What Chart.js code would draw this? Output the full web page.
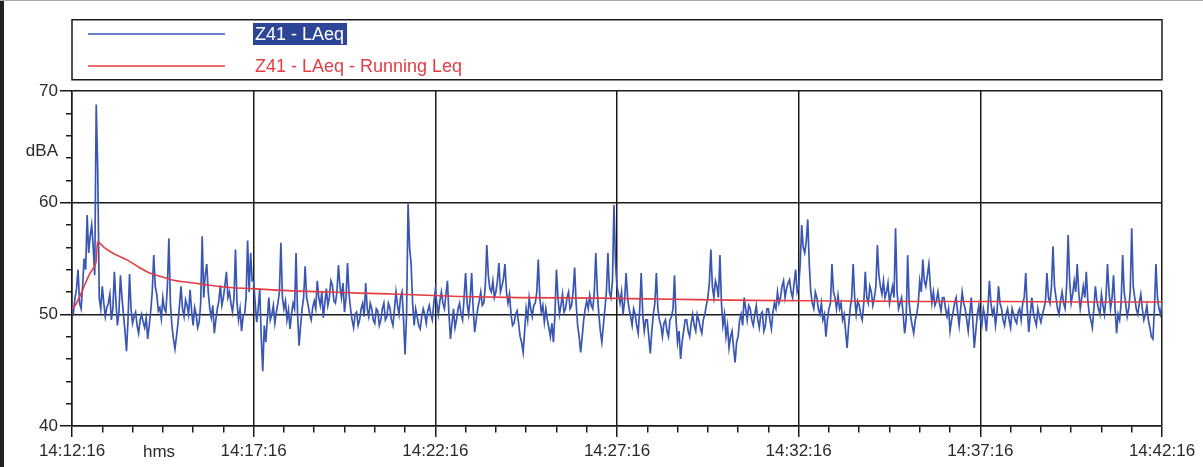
<!DOCTYPE html>
<html>
<head>
<meta charset="utf-8">
<title>Z41 - LAeq</title>
<script src="https://cdn.jsdelivr.net/npm/chart.js@4.4.1/dist/chart.umd.min.js"></script>
<style>
    html, body { margin: 0; padding: 0; background: #fff; }
    #wrap { position: relative; width: 1203px; height: 467px; }
</style>
</head>
<body>
<div id="wrap"><canvas id="noise-chart"></canvas></div>
<script>
// ===== DATA =====
// LAeq samples, one every 2.5 s from 14:12:16
const laeqStep = 2.5;
const laeq = [
    50.8, 50.2, 51.5, 52.3, 54.0, 51.0, 50.5, 52.5, 55.0, 54.0, 58.9, 55.5, 57.0, 58.0, 56.0, 53.5, 68.8, 63.0, 51.5, 50.5,
    52.5, 51.0, 49.8, 50.6, 51.0, 51.8, 49.5, 50.5, 53.8, 51.2, 49.0, 50.2, 53.5, 51.5, 50.0, 48.5, 46.7, 49.5, 53.6, 50.5,
    49.2, 49.8, 50.2, 49.0, 48.3, 49.5, 50.0, 49.3, 48.8, 49.7, 47.8, 49.0, 50.3, 52.0, 55.3, 52.5, 51.8, 50.3, 50.6, 49.6,
    51.5, 50.5, 50.2, 52.5, 56.8, 51.0, 49.0, 47.8, 46.9, 48.0, 49.2, 50.8, 52.5, 50.5, 49.8, 51.3, 50.8, 50.0, 52.2, 50.3,
    49.0, 50.6, 50.0, 48.8, 49.3, 51.0, 57.0, 51.5, 53.5, 54.5, 52.0, 50.5, 49.7, 50.8, 48.3, 49.5, 50.5, 51.2, 52.6, 50.8,
    51.5, 52.6, 53.8, 51.5, 52.0, 51.0, 50.2, 51.5, 55.8, 51.0, 49.5, 50.5, 48.5, 49.8, 50.0, 51.5, 56.6, 52.0, 55.5, 53.0,
    53.0, 51.0, 49.3, 50.5, 52.3, 48.0, 44.9, 49.0, 47.5, 49.5, 51.5, 49.5, 50.0, 50.8, 49.2, 50.2, 51.0, 52.0, 56.4, 51.5,
    50.5, 51.2, 49.5, 50.4, 48.7, 50.0, 51.0, 50.5, 55.5, 50.0, 47.2, 49.0, 50.5, 51.5, 54.3, 51.5, 50.8, 50.0, 49.5, 50.6,
    51.2, 50.5, 53.0, 51.5, 50.8, 52.0, 49.7, 51.0, 52.3, 50.8, 51.5, 53.0, 52.6, 51.2, 51.0, 52.0, 54.4, 52.5, 51.5, 52.8,
    50.2, 51.5, 54.6, 51.8, 50.5, 49.5, 48.8, 50.0, 50.2, 49.0, 49.5, 50.5, 51.0, 49.8, 52.8, 50.5, 49.8, 51.0, 50.5, 49.5,
    49.2, 50.5, 50.3, 49.0, 49.5, 50.5, 51.0, 49.5, 49.8, 51.0, 50.6, 49.5, 49.0, 50.5, 52.0, 50.8, 50.0, 51.5, 52.0, 49.5,
    46.4, 50.0, 59.9, 56.0, 54.5, 51.0, 49.0, 50.5, 49.8, 49.0, 48.7, 49.8, 50.5, 50.0, 49.2, 50.3, 50.8, 50.0, 49.5, 51.0,
    52.2, 51.0, 50.0, 51.2, 52.0, 51.0, 50.5, 51.8, 53.0, 50.0, 47.8, 49.2, 50.5, 48.8, 49.5, 50.5, 51.0, 50.0, 49.5, 51.5,
    53.7, 51.0, 50.0, 51.5, 53.7, 50.5, 48.4, 49.5, 50.5, 51.2, 52.0, 50.8, 51.0, 52.5, 56.2, 53.5, 52.3, 52.0, 53.0, 51.5,
    52.0, 53.0, 54.6, 52.0, 52.5, 53.2, 54.5, 52.0, 51.0, 51.8, 50.0, 49.0, 49.2, 50.0, 50.3, 49.2, 48.0, 47.5, 46.6, 48.5,
    50.5, 49.5, 51.5, 50.5, 49.8, 50.8, 51.0, 52.0, 54.9, 51.5, 50.2, 50.8, 49.3, 50.5, 49.5, 48.8, 48.0, 49.2, 47.5, 50.0,
    54.0, 51.5, 50.0, 50.8, 51.8, 50.2, 50.5, 51.5, 52.0, 50.5, 50.8, 52.0, 54.2, 51.0, 49.0, 48.0, 46.6, 48.0, 49.5, 50.5,
    51.2, 50.5, 51.7, 50.8, 50.5, 52.0, 55.5, 52.0, 50.0, 48.5, 47.5, 49.0, 50.5, 52.0, 55.5, 52.0, 51.5, 53.0, 59.8, 54.5,
    52.5, 51.8, 51.0, 52.0, 50.0, 51.2, 53.7, 51.5, 50.5, 49.8, 49.0, 50.5, 50.0, 49.0, 48.3, 50.5, 53.7, 50.0, 48.5, 49.5,
    49.5, 48.0, 46.5, 48.5, 50.0, 51.0, 53.7, 50.5, 49.5, 49.0, 48.0, 49.2, 49.5, 48.5, 48.0, 49.5, 49.8, 50.5, 53.5, 49.5,
    47.5, 48.5, 46.0, 47.5, 48.5, 49.5, 49.5, 48.5, 48.0, 49.2, 50.0, 49.0, 48.5, 50.0, 49.5, 48.8, 48.3, 49.5, 50.0, 50.8,
    51.5, 52.8, 55.8, 52.5, 51.5, 53.0, 52.5, 51.5, 55.3, 51.0, 49.0, 50.0, 48.0, 49.0, 47.0, 48.0, 48.5, 47.0, 45.7, 47.5,
    48.0, 49.5, 50.0, 49.0, 51.5, 50.5, 49.5, 50.8, 50.5, 49.5, 49.0, 50.0, 50.8, 49.5, 48.8, 50.0, 50.2, 48.5, 49.0, 50.5,
    50.5, 49.5, 48.7, 50.2, 51.0, 50.5, 52.0, 51.0, 51.5, 52.5, 53.0, 51.5, 52.3, 52.8, 53.1, 52.0, 51.5, 52.8, 54.0, 52.0,
    52.5, 54.5, 58.0, 56.0, 55.5, 56.5, 58.5, 54.5, 52.0, 51.0, 50.5, 52.0, 51.5, 50.5, 50.0, 51.0, 49.5, 50.0, 48.0, 49.5,
    50.5, 51.0, 54.5, 52.0, 51.5, 50.5, 51.7, 50.5, 51.0, 49.5, 50.0, 48.5, 47.0, 49.0, 50.5, 51.5, 54.5, 51.5, 50.0, 51.2,
    50.8, 50.0, 49.5, 51.0, 53.8, 51.5, 51.0, 52.5, 52.0, 50.8, 51.5, 52.5, 56.2, 53.5, 52.5, 51.8, 53.0, 51.5, 52.0, 52.8,
    51.0, 51.8, 52.5, 51.5, 57.7, 52.0, 50.5, 51.0, 51.5, 50.0, 48.3, 49.5, 55.3, 51.0, 49.8, 49.0, 48.3, 49.5, 50.0, 51.0,
    53.0, 52.0, 54.9, 53.0, 52.5, 53.5, 54.5, 52.5, 51.0, 52.0, 50.8, 51.2, 52.0, 51.0, 50.3, 51.5, 51.5, 50.5, 49.8, 50.5,
    48.5, 49.5, 50.2, 51.0, 51.5, 50.2, 49.0, 50.5, 52.0, 51.0, 50.5, 49.5, 48.5, 50.0, 51.5, 49.5, 47.0, 48.5, 50.0, 50.8,
    49.5, 49.0, 50.5, 49.8, 48.5, 50.5, 53.0, 51.0, 50.0, 50.5, 49.0, 50.2, 52.5, 51.0, 50.5, 49.5, 49.0, 50.0, 50.5, 49.5,
    48.8, 50.5, 50.0, 49.5, 49.2, 50.2, 50.5, 49.5, 51.0, 51.5, 53.7, 50.5, 48.4, 50.0, 51.5, 50.2, 49.5, 49.0, 50.5, 49.8,
    49.3, 50.0, 50.5, 51.2, 53.7, 51.5, 51.0, 52.5, 56.1, 52.5, 51.5, 50.5, 50.0, 51.2, 52.0, 51.0, 50.5, 52.5, 57.1, 53.0,
    51.0, 51.8, 53.0, 52.0, 54.5, 52.0, 50.5, 51.5, 52.5, 51.5, 53.8, 51.2, 50.0, 49.5, 48.8, 50.5, 52.5, 51.2, 50.5, 50.0,
    51.8, 50.8, 50.0, 51.5, 54.5, 52.0, 50.5, 51.5, 53.5, 50.5, 48.3, 50.0, 49.5, 51.0, 55.3, 52.0, 51.0, 49.8, 50.5, 52.0,
    57.7, 52.5, 51.5, 50.5, 50.0, 51.0, 51.8, 50.5, 49.5, 50.0, 50.8, 49.5, 48.8, 48.0, 47.8, 50.5, 54.5, 51.5, 50.5, 50.0, 51.0
];

// running Leq (seconds from start, dBA)
const runningTimes = [0, 4, 12, 20, 29, 37, 40, 42, 53, 70, 90, 111, 128, 152, 172, 202, 227, 260,
    298, 364, 425, 475, 541, 640, 740, 872, 992, 1120, 1268, 1400, 1533, 1665, 1800];
const runningLeq = [50.5, 50.7, 51.5, 52.5, 53.6, 54.3, 54.8, 56.5, 56.0, 55.4, 54.9, 54.2, 53.7, 53.3, 53.0, 52.8, 52.6, 52.4,
    52.3, 52.1, 52.0, 51.9, 51.8, 51.6, 51.5, 51.45, 51.35, 51.25, 51.2, 51.15, 51.15, 51.1, 51.1];

const seriesNames = ['Z41 - LAeq', 'Z41 - LAeq - Running Leq'];
const xTickLabels = ['14:12:16', '14:17:16', '14:22:16', '14:27:16', '14:32:16', '14:37:16', '14:42:16'];
const yMajorTicks = [40, 50, 60, 70];

const INK = '#1a1a1a';
const BLUE = '#3a56b3';
const RED = '#e43c45';

const isMajorX = v => v % 300 === 0;
const isMajorY = v => yMajorTicks.includes(v);

// legend box, page edge and the loose labels
const framePlugin = {
    id: 'frame',
    beforeDraw(chart) {
        const ctx = chart.ctx;
        const area = chart.chartArea;
        ctx.save();
        ctx.fillStyle = '#fff';
        ctx.fillRect(0, 0, chart.width, chart.height);
        ctx.fillStyle = '#202020';
        ctx.fillRect(0, 0, 4, chart.height);
        ctx.fillStyle = '#a8a8a8';
        ctx.fillRect(0, 0, chart.width, 1);

        ctx.strokeStyle = INK;
        ctx.lineWidth = 1.5;
        ctx.strokeRect(area.left, 19.75, area.right - area.left, 60);

        ctx.font = '18px "Liberation Sans", Arial, sans-serif';
        ctx.textBaseline = 'middle';
        ctx.textAlign = 'left';
        const rows = [34, 66];
        chart.data.datasets.forEach((ds, i) => {
            const y = rows[i];
            ctx.strokeStyle = ds.borderColor;
            ctx.lineWidth = 1.5;
            ctx.beginPath();
            ctx.moveTo(88, y);
            ctx.lineTo(225, y);
            ctx.stroke();
            if (i === 0) {
                const w = ctx.measureText(ds.label).width;
                ctx.fillStyle = '#2c4596';
                ctx.fillRect(253, y - 11, w + 5, 22);
                ctx.fillStyle = '#fff';
            } else {
                ctx.fillStyle = ds.borderColor;
            }
            ctx.fillText(ds.label, 255, y + 1);
        });

        ctx.font = '17px "Liberation Sans", Arial, sans-serif';
        ctx.fillStyle = '#2a2a2a';
        ctx.textAlign = 'right';
        ctx.fillText('dBA', 58, 151);
        ctx.textAlign = 'center';
        ctx.fillText('hms', 159, 452);
        ctx.restore();
    }
};

Chart.defaults.font.family = '"Liberation Sans", Arial, sans-serif';
Chart.defaults.font.size = 17;
Chart.defaults.color = '#2a2a2a';

new Chart(document.getElementById('noise-chart'), {
    type: 'line',
    data: {
        datasets: [
            {
                label: seriesNames[0],
                data: laeq.map((v, i) => ({ x: i * laeqStep, y: v })),
                borderColor: BLUE,
                borderWidth: 1.7,
                pointRadius: 0,
                tension: 0,
                order: 2
            },
            {
                label: seriesNames[1],
                data: runningLeq.map((v, i) => ({ x: runningTimes[i], y: v })),
                borderColor: RED,
                borderWidth: 1.6,
                pointRadius: 0,
                cubicInterpolationMode: 'monotone',
                order: 1
            }
        ]
    },
    options: {
        responsive: true,
        maintainAspectRatio: false,
        animation: false,
        layout: { padding: { top: 91, right: 41, left: 0, bottom: 0 } },
        plugins: { legend: { display: false }, tooltip: { enabled: false } },
        scales: {
            x: {
                type: 'linear',
                min: 0, max: 1800,
                afterFit: s => { s.height = 41; },
                border: { color: INK, width: 1.5 },
                ticks: {
                    stepSize: 50, autoSkip: false, maxRotation: 0, padding: 4,
                    callback: v => isMajorX(v) ? xTickLabels[v / 300] : ''
                },
                grid: {
                    color: c => isMajorX(c.tick.value) ? INK : 'rgba(0,0,0,0)',
                    lineWidth: 1.5,
                    tickLength: 11,
                    tickColor: INK,
                    tickWidth: 1.5,
                    tickBorderDash: c => isMajorX(c.tick.value) ? [] : [6, 30]
                }
            },
            y: {
                min: 40, max: 70,
                afterFit: s => { s.width = 72; },
                border: { color: INK, width: 1.5 },
                ticks: {
                    stepSize: 2, padding: 2, autoSkip: false,
                    callback: v => isMajorY(v) ? String(v) : ''
                },
                grid: {
                    color: c => isMajorY(c.tick.value) ? INK : 'rgba(0,0,0,0)',
                    lineWidth: 1.5,
                    tickLength: 12,
                    tickColor: INK,
                    tickWidth: 1.5,
                    tickBorderDash: c => isMajorY(c.tick.value) ? [] : [6, 6],
                    tickBorderDashOffset: c => isMajorY(c.tick.value) ? 0 : 6
                }
            }
        }
    },
    plugins: [framePlugin]
});
</script>
</body>
</html>
